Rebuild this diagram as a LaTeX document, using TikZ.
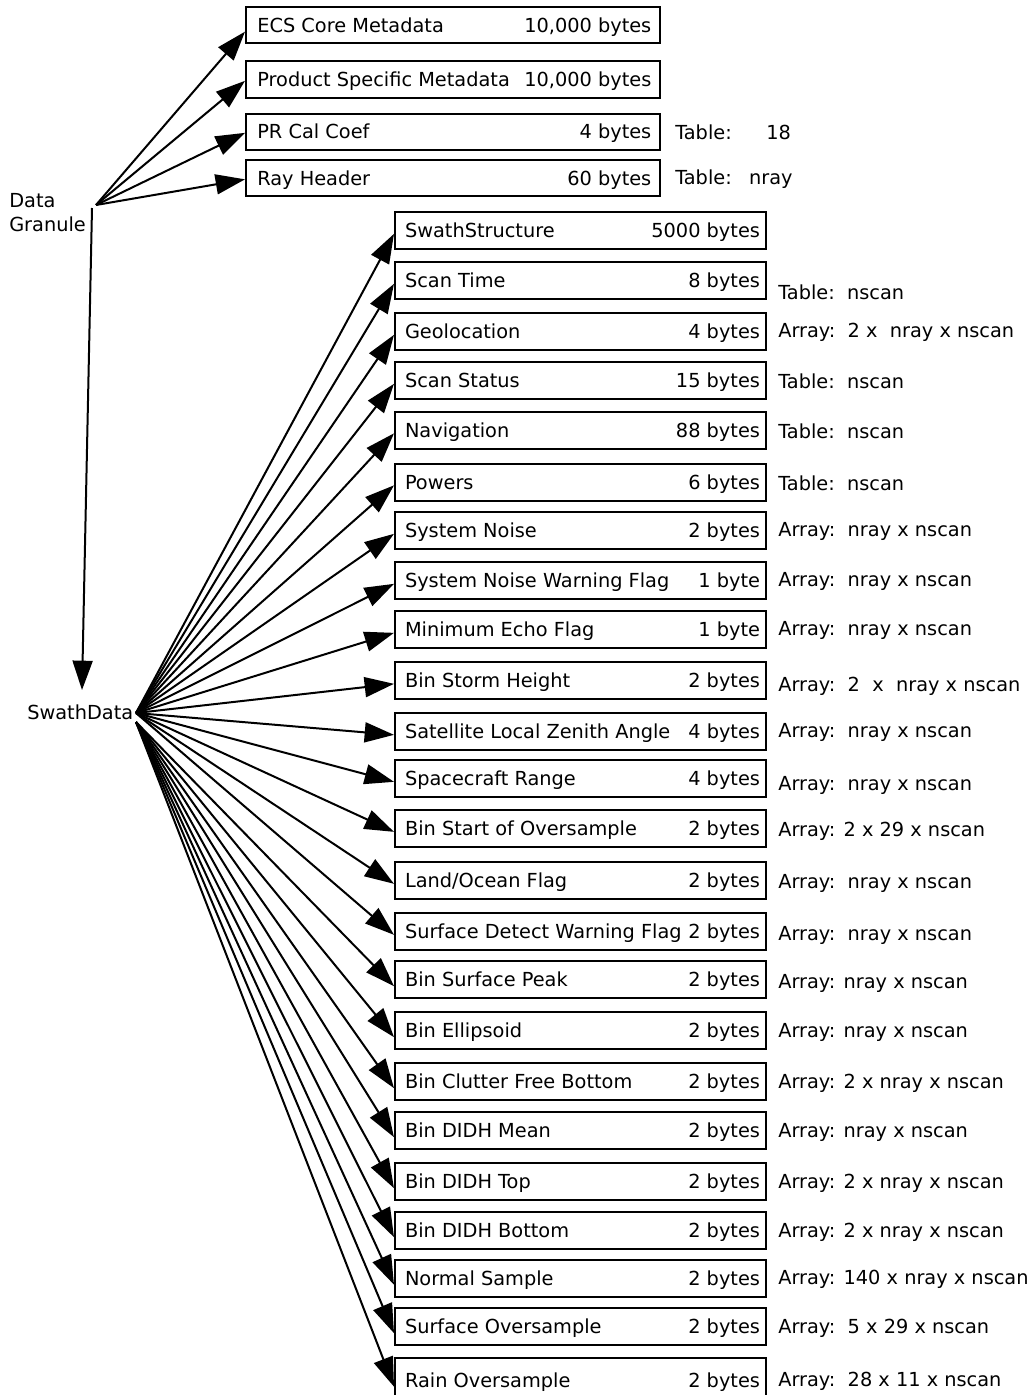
\documentclass[tikz,border=0pt]{standalone}
\usepackage{fontspec}
\setmainfont{DejaVu Sans}
\usetikzlibrary{arrows.meta}
% field row: name on the left, size on the right, set a little below the centre line
\newcommand{\toprow}[2]{\raisebox{-1.3pt}[\height][\depth]{\makebox[310.5pt][l]{\hspace{8.5pt}#1\hfill#2\hspace{6.5pt}}}}
\newcommand{\datarow}[2]{\raisebox{-1.3pt}[\height][\depth]{\makebox[278.25pt][l]{\hspace{7.5pt}#1\hfill#2\hspace{4.5pt}}}}
\begin{document}
\begin{tikzpicture}[x=0.75pt,y=-0.75pt,
  font=\fontsize{14.5}{18}\selectfont,
  conn/.style={line width=1.5pt,-{Triangle[length=22pt,width=15pt]}},
  topbox/.style={draw,line width=1.5pt,inner sep=0pt,minimum width=310.5pt,minimum height=27pt},
  databox/.style={draw,line width=1.5pt,inner sep=0pt,minimum width=278.25pt,minimum height=27.75pt},
  info/.style={anchor=west,inner sep=0pt},
]
\useasboundingbox (0,0) rectangle (1034,1395);

% granule-level objects
\node[topbox] (t1) at (453,25)   {\toprow{ECS Core Metadata}{10,000 bytes}};
\node[topbox] (t2) at (453,79.5) {\toprow{Product Specific Metadata}{10,000 bytes}};
\node[topbox] (t3) at (453,131.5){\toprow{PR Cal Coef}{4 bytes}};
\node[topbox] (t4) at (453,178)  {\toprow{Ray Header}{60 bytes}};
\node[info] (i3) at (675,132) {Table:\hspace{26pt}18};
\node[info] (i4) at (675,179) {Table:\hspace{13pt}nray};

\node[anchor=west,align=left,inner sep=0pt] (dg) at (9,213) {Data\\Granule};
\coordinate (dgo) at (96,205);
\coordinate (dgv) at (92,208);
\coordinate (sdt) at (82,690);
\node[anchor=west,inner sep=0pt] (sd) at (27,712) {SwathData};
\coordinate (sdA) at (136,713);
\coordinate (sdB) at (136,722);

% swath-level objects
\node[databox] (r1)  at (580.5,230.5)  {\datarow{SwathStructure}{5000 bytes}};
\node[databox] (r2)  at (580.5,280.5)  {\datarow{Scan Time}{8 bytes}};
\node[databox] (r3)  at (580.5,331.5)  {\datarow{Geolocation}{4 bytes}};
\node[databox] (r4)  at (580.5,380.5)  {\datarow{Scan Status}{15 bytes}};
\node[databox] (r5)  at (580.5,430)    {\datarow{Navigation}{88 bytes}};
\node[databox] (r6)  at (580.5,482)    {\datarow{Powers}{6 bytes}};
\node[databox] (r7)  at (580.5,530.5)  {\datarow{System Noise}{2 bytes}};
\node[databox] (r8)  at (580.5,580.5)  {\datarow{System Noise Warning Flag}{1 byte}};
\node[databox] (r9)  at (580.5,629.5)  {\datarow{Minimum Echo Flag}{1 byte}};
\node[databox] (r10) at (580.5,680.5)  {\datarow{Bin Storm Height}{2 bytes}};
\node[databox] (r11) at (580.5,731.5)  {\datarow{Satellite Local Zenith Angle}{4 bytes}};
\node[databox] (r12) at (580.5,778.5)  {\datarow{Spacecraft Range}{4 bytes}};
\node[databox] (r13) at (580.5,828.5)  {\datarow{Bin Start of Oversample}{2 bytes}};
\node[databox] (r14) at (580.5,880.5)  {\datarow{Land/Ocean Flag}{2 bytes}};
\node[databox] (r15) at (580.5,931.5)  {\datarow{Surface Detect Warning Flag}{2 bytes}};
\node[databox] (r16) at (580.5,979.5)  {\datarow{Bin Surface Peak}{2 bytes}};
\node[databox] (r17) at (580.5,1030.5) {\datarow{Bin Ellipsoid}{2 bytes}};
\node[databox] (r18) at (580.5,1081.5) {\datarow{Bin Clutter Free Bottom}{2 bytes}};
\node[databox] (r19) at (580.5,1130.5) {\datarow{Bin DIDH Mean}{2 bytes}};
\node[databox] (r20) at (580.5,1181.5) {\datarow{Bin DIDH Top}{2 bytes}};
\node[databox] (r21) at (580.5,1230.5) {\datarow{Bin DIDH Bottom}{2 bytes}};
\node[databox] (r22) at (580.5,1278)   {\datarow{Normal Sample}{2 bytes}};
\node[databox] (r23) at (580.5,1326.5) {\datarow{Surface Oversample}{2 bytes}};
\node[databox,minimum height=33pt] (r24) at (580.5,1380) {\datarow{Rain Oversample}{2 bytes}};

% dimensions
\node[info] at (778,292)  {Table:~~nscan};
\node[info] at (778,332.5){Array:~~2 x~~nray x nscan};
\node[info] at (778,381.5){Table:~~nscan};
\node[info] at (778,431)  {Table:~~nscan};
\node[info] at (778,483)  {Table:~~nscan};
\node[info] at (778,531.5){Array:~~nray x nscan};
\node[info] at (778,581.5){Array:~~nray x nscan};
\node[info] at (778,630.5){Array:~~nray x nscan};
\node[info] at (778,686)  {Array:~~2~~x~~nray x nscan};
\node[info] at (778,732.5){Array:~~nray x nscan};
\node[info] at (778,785)  {Array:~~nray x nscan};
\node[info] at (778,831)  {Array: 2 x 29 x nscan};
\node[info] at (778,883)  {Array:~~nray x nscan};
\node[info] at (778,935)  {Array:~~nray x nscan};
\node[info] at (778,983)  {Array: nray x nscan};
\node[info] at (778,1032) {Array: nray x nscan};
\node[info] at (778,1083) {Array: 2 x nray x nscan};
\node[info] at (778,1132) {Array: nray x nscan};
\node[info] at (778,1183) {Array: 2 x nray x nscan};
\node[info] at (778,1232) {Array: 2 x nray x nscan};
\node[info] at (778,1279) {Array: 140 x nray x nscan};
\node[info] at (778,1328) {Array:~~5 x 29 x nscan};
\node[info] at (778,1381) {Array:~~28 x 11 x nscan};

% connectors
\draw[conn] (dgo) -- ([yshift=-5pt]t1.west);
\foreach \k in {2,3,4} \draw[conn] (dgo) -- ([yshift=-1pt]t\k.west);
\draw[conn] (dgv) -- (sdt);
\foreach \k in {1,...,15} \draw[conn] (sdA) -- ([yshift=-2.5pt]r\k.west);
\foreach \k in {16,...,24} \draw[conn] (sdB) -- ([yshift=-5pt]r\k.west);
\end{tikzpicture}
\end{document}
